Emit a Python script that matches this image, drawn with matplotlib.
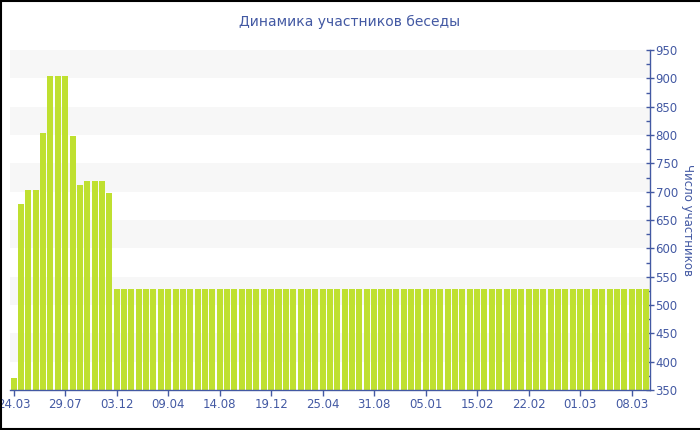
import matplotlib
matplotlib.use("Agg")
import matplotlib.pyplot as plt
from matplotlib.lines import Line2D
from matplotlib.ticker import MultipleLocator

# members per snapshot
members_start = [371, 678, 703, 703, 804, 905, 905, 905, 799, 712, 719, 719, 719, 698]
members_plateau = [
    528, 528, 528, 528, 528, 528, 528, 528, 528, 528,
    528, 528, 528, 528, 528, 528, 528, 528, 528, 528,
    528, 528, 528, 528, 528, 528, 528, 528, 528, 528,
    528, 528, 528, 528, 528, 528, 528, 528, 528, 528,
    528, 528, 528, 528, 528, 528, 528, 528, 528, 528,
    528, 528, 528, 528, 528, 528, 528, 528, 528, 528,
    528, 528, 528, 528, 528, 528, 528, 528, 528, 528,
    528, 528, 528,
]
members = members_start + members_plateau

tick_labels = ["24.03", "29.07", "03.12", "09.04", "14.08", "19.12", "25.04",
               "31.08", "05.01", "15.02", "22.02", "01.03", "08.03"]
tick_step = 7

BLUE = "#4359a3"
BAR = "#bfe030"
BAND = "#f7f7f7"

fig = plt.figure(figsize=(7, 4.3), dpi=100)
ax = fig.add_axes([10 / 700, 40 / 430, 640 / 700, 340 / 430])

# alternating background bands
for lo in range(400, 950, 100):
    ax.axhspan(lo, lo + 50, color=BAND, zorder=0, lw=0)

x = list(range(len(members)))
ax.bar(x, [m - 350 for m in members], bottom=350, width=0.82, color=BAR, zorder=2)

ax.set_xlim(-0.5, len(members) - 0.5)
ax.set_ylim(350, 950)

ax.set_xticks(x[::tick_step])
ax.set_xticklabels(tick_labels)
ax.tick_params(axis="x", colors=BLUE, labelcolor=BLUE, labelsize=8.5,
               length=4, width=1, pad=2)

ax.yaxis.tick_right()
ax.yaxis.set_label_position("right")
ax.yaxis.set_major_locator(MultipleLocator(50))
ax.yaxis.set_minor_locator(MultipleLocator(25))
ax.tick_params(axis="y", which="major", direction="inout", length=6, width=1,
               colors=BLUE, labelcolor=BLUE, labelsize=8.5, pad=1)
ax.tick_params(axis="y", which="minor", direction="in", length=3, width=1,
               colors=BLUE)
ax.set_ylabel("Число участников", color=BLUE, fontsize=8.5, rotation=-90,
              labelpad=12)

for side in ("left", "top"):
    ax.spines[side].set_visible(False)
for side in ("right", "bottom"):
    ax.spines[side].set_color(BLUE)
    ax.spines[side].set_linewidth(1)

fig.text(0.5, 1 - 22 / 430, "Динамика участников беседы", ha="center",
         va="center", color=BLUE, fontsize=10)

# frame on left, top and bottom of the picture (right side is cropped away)
top_y = 1 - 1 / 430
bot_y = 1.5 / 430
left_x = 1 / 700
fig.add_artist(Line2D([left_x, left_x], [bot_y, top_y], transform=fig.transFigure,
                      color="black", lw=1.5))
fig.add_artist(Line2D([0, 1], [top_y, top_y], transform=fig.transFigure,
                      color="black", lw=1.5))
fig.add_artist(Line2D([0, 1], [bot_y, bot_y], transform=fig.transFigure,
                      color="black", lw=1.5))

fig.savefig("out.png", dpi=100)
